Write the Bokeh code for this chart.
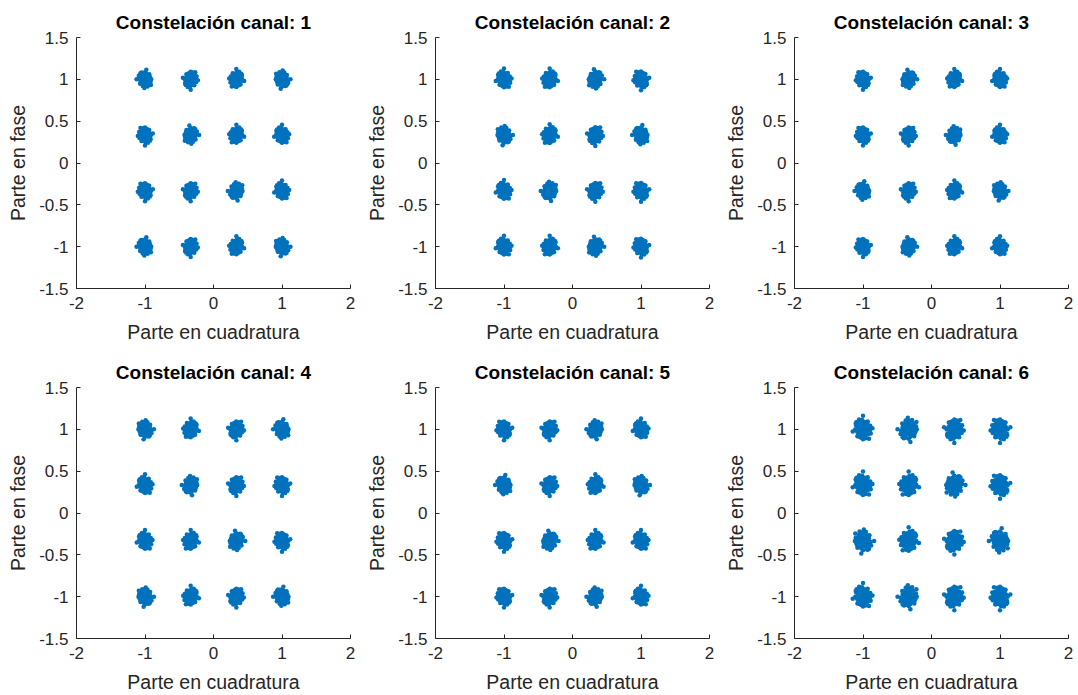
from bokeh.plotting import figure
from bokeh.layouts import column, row
from bokeh.models import FixedTicker, CustomJSTickFormatter, ColumnDataSource
from bokeh.embed import file_html
from bokeh.resources import INLINE

# ---- data ----
CHANNELS = [1, 2, 3, 4, 5, 6]
LEVELS = [-1.0, -0.3333, 0.3333, 1.0]           # 16-QAM levels (I and Q)
SPREAD = [0.095, 0.1, 0.095, 0.1, 0.1, 0.125]   # estimated noise radius per channel
# normalised noise offsets read as a typical cloud shape (outer ring)
OFF_X = [0.0, 0.3, -0.3, 0.5, -0.5, 0.2, -0.2, 0.7, -0.7, 0.1, -0.1, 0.6, -0.6, 0.4,
         -0.4, 0.8, -0.8, 0.0, 0.3, -0.3, 0.55, -0.55, 0.15, -0.15, 0.9, -0.85, 0.35,
         -0.4, 0.65, -0.6, 0.05, 0.25, -0.25, 1.2, -1.1, 0.45, -0.5, 0.75, 0.0, -0.7,
         0.2, -0.35, 0.5, -0.15, 0.85, -0.9]
OFF_Y = [0.0, 0.4, -0.3, -0.2, 0.5, 0.8, -0.7, 0.2, -0.1, -0.9, 0.6, -0.5, 0.3, 0.7,
         -0.6, -0.4, 0.1, 0.95, -0.45, 0.85, 0.55, -0.75, -0.3, 0.25, 0.0, -0.35, -0.8,
         0.15, 0.65, 0.45, 0.5, -0.6, 0.75, 0.2, -0.1, -0.95, -0.55, -0.7, -1.3, 0.9,
         -0.2, 0.05, 0.35, -0.5, -0.55, 0.4]
# dense core of each cloud
CORE_X = [0.0, 0.25, -0.25, 0.4, -0.4, 0.15, -0.15, 0.3, -0.3, 0.0, 0.45, -0.45,
          0.1, -0.1, 0.35, -0.35, 0.2, -0.2, 0.5, -0.5, 0.0, 0.3, -0.3, 0.1]
CORE_Y = [0.0, 0.2, -0.25, -0.1, 0.15, 0.4, -0.4, 0.5, -0.5, 0.3, 0.35, -0.3,
          -0.55, 0.55, -0.4, 0.4, 0.0, 0.05, -0.2, 0.25, -0.35, 0.0, 0.0, 0.6]
X_TICKS = [-2, -1, 0, 1, 2]
Y_TICKS = [-1.5, -1, -0.5, 0, 0.5, 1, 1.5]

BLUE = "#0072BD"
AX = "#262626"
FONT = "Liberation Sans"


def make_points(ci):
    xs, ys = [], []
    s = SPREAD[ci]
    k = 0
    offs = list(zip(OFF_X, OFF_Y)) + list(zip(CORE_X, CORE_Y))
    for qi, q in enumerate(LEVELS):
        for ii, i in enumerate(LEVELS):
            fx = 1 if (k + ci) % 2 == 0 else -1
            fy = 1 if (k // 2 + ci) % 2 == 0 else -1
            swap = (k + ci) % 3 == 0
            for dx, dy in offs:
                if swap:
                    dx, dy = dy, dx
                xs.append(i + fx * dx * s)
                ys.append(q + fy * dy * s)
            k += 1
    return xs, ys


figs = []
for ci, ch in enumerate(CHANNELS):
    last_row = ci >= 3
    p = figure(width=359, height=(345 if last_row else 350),
               x_range=(-2, 2), y_range=(-1.5, 1.5),
               output_backend="svg", toolbar_location=None,
               min_border_left=76, min_border_right=9,
               min_border_top=37, min_border_bottom=(57 if last_row else 62))
    p.title.text = f"Constelación canal: {ch}"
    p.title.align = "center"
    p.title.text_font = FONT
    p.title.text_font_size = "19px"
    p.title.text_font_style = "bold"
    p.title.text_color = "black"
    p.outline_line_color = None
    p.grid.visible = False
    p.background_fill_color = "white"
    p.border_fill_color = "white"

    xs, ys = make_points(ci)
    src = ColumnDataSource(dict(x=xs, y=ys))
    p.scatter("x", "y", source=src, size=4.5, fill_color=BLUE, line_color=None)

    for ax, ticks in ((p.xaxis[0], X_TICKS), (p.yaxis[0], Y_TICKS)):
        ax.ticker = FixedTicker(ticks=ticks, minor_ticks=[])
        ax.formatter = CustomJSTickFormatter(code="return tick.toString();")
        ax.axis_line_color = AX
        ax.major_tick_line_color = AX
        ax.major_tick_in = 4
        ax.major_tick_out = 0
        ax.minor_tick_line_color = None
        ax.major_label_text_font = FONT
        ax.major_label_text_font_size = "17px"
        ax.major_label_text_color = AX
        ax.axis_label_text_font = FONT
        ax.axis_label_text_font_size = "19.5px"
        ax.axis_label_text_font_style = "normal"
        ax.axis_label_text_color = AX
    p.xaxis.major_label_standoff = 8
    p.xaxis.axis_label_standoff = 9
    p.yaxis.major_label_standoff = 8
    p.yaxis.axis_label_standoff = 7
    p.xaxis.axis_label = "Parte en cuadratura"
    p.yaxis.axis_label = "Parte en fase"
    figs.append(p)

layout = column(row(*figs[:3]), row(*figs[3:]))
open("out.html", "w").write(file_html(layout, INLINE))
